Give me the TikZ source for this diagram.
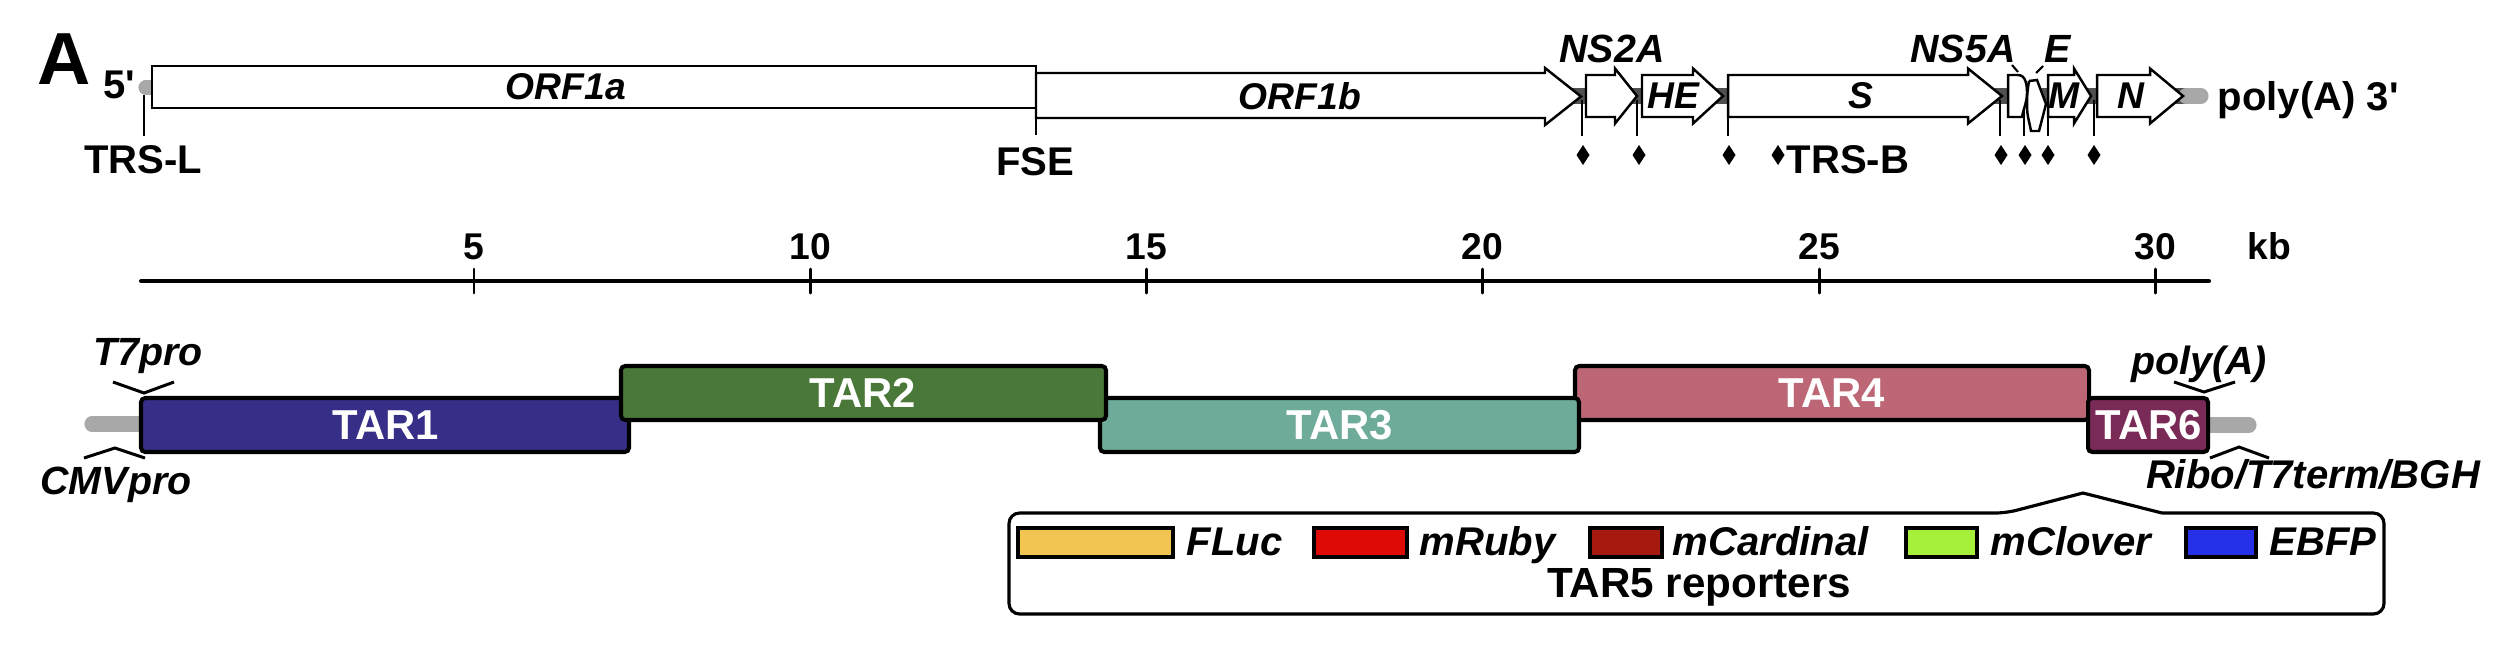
\documentclass[tikz,border=0pt]{standalone}
\usepackage{fontspec}
\setmainfont{Liberation Sans}
\newfontfamily\plainfam{Liberation Sans}
\definecolor{tarA}{HTML}{372F87}
\definecolor{tarB}{HTML}{4A7838}
\definecolor{tarC}{HTML}{6FAB9A}
\definecolor{tarD}{HTML}{BC6676}
\definecolor{tarF}{HTML}{7A2A56}
\definecolor{cFLuc}{HTML}{F2C552}
\definecolor{cRuby}{HTML}{DD0A05}
\definecolor{cCard}{HTML}{A6190F}
\definecolor{cClov}{HTML}{A6F03C}
\definecolor{cEBFP}{HTML}{2530E8}
\definecolor{capgray}{HTML}{A8A8A8}
\definecolor{bbgray}{HTML}{505050}
\newcommand{\genearrow}[5]{% name, x start, head start, tip x, centre y
  \draw[gene] (#2,#5-21) -- (#3,#5-21) -- (#3,#5-27.5) -- (#4,#5) -- (#3,#5+27.5) -- (#3,#5+21) -- (#2,#5+21) -- cycle;
  \coordinate (#1) at ({(#2+#3)/2},#5);}
\newcommand{\dmd}[1]{\fill (#1,145) -- (#1+6.5,155) -- (#1,165) -- (#1-6.5,155) -- cycle;}
\newcommand{\sq}{{\plainfam\bfseries '}}
\begin{document}
\begin{tikzpicture}[x=0.1mm,y=-0.1mm,
  lbl/.style={font=\bfseries\fontsize{11.4}{12}\selectfont, inner sep=0pt},
  ilbl/.style={font=\bfseries\itshape\fontsize{10.6}{12}\selectfont, inner sep=0pt},
  tlbl/.style={font=\bfseries\fontsize{10.6}{12}\selectfont, inner sep=0pt},
  gene/.style={draw=black, fill=white, line width=0.7pt, line join=miter},
  tar/.style={draw=black, line width=1.15pt, rounded corners=1.2pt},
  tarlbl/.style={font=\bfseries\fontsize{11.9}{12}\selectfont, text=white, inner sep=0pt},
  caret/.style={line width=0.85pt},
  sw/.style={draw=black, line width=0.9pt},
  tk/.style={line width=0.6pt},
]
\useasboundingbox[fill=white] (0,0) rectangle (2500,654);

% ---------------- top genome track ----------------
\node[font=\bfseries\fontsize{21}{21}\selectfont, anchor=base west, inner sep=0pt] (A) at (37,84) {A};
\node[lbl, anchor=base west] (five) at (103,98) {5\sq};

% backbone
\draw[line width=4.3pt, bbgray] (1570,96) -- (2186,96);
\draw[line width=4.3pt, capgray, line cap=round] (2186,96) -- (2201,96);
\draw[line width=4.3pt, capgray, line cap=round] (146,87.5) -- (152,87.5);

% ticks below
\draw[tk] (144,95) -- (144,136);
\draw[tk] (1036,108) -- (1036,135);
\foreach \x in {1582,1637,1728,2000,2024,2048,2094} \draw[tk] (\x,100) -- (\x,136);

% genes
\draw[gene] (152,66) rectangle (1036,108);
\coordinate (orf1a) at (566,87);
\draw[gene] (1036,73) -- (1545,73) -- (1545,68) -- (1581,96.5) -- (1545,125) -- (1545,118) -- (1036,118) -- cycle;
\coordinate (orf1b) at (1300,96);
\genearrow{ns2a}{1586}{1615}{1637}{96}
\genearrow{he}{1642}{1693}{1723}{96}
\genearrow{s}{1728}{1968}{2002}{96}
\genearrow{m}{2048}{2074}{2091}{96}
\genearrow{n}{2097}{2150}{2183}{96}
% NS5A small box and E
\draw[gene] (2008,75) -- (2018,75) to[out=0,in=90] (2027,93) to[out=-90,in=80] (2022,117) -- (2008,117) -- cycle;
\draw[gene] (2029,81) -- (2037,80) -- (2046,104) -- (2039,131) -- (2031,131) to[out=100,in=-90] (2027,106) to[out=90,in=-100] (2029,81);
\draw[tk] (2012,65) -- (2018,72);
\draw[tk] (2043,66) -- (2036,73);

\node[ilbl] at (orf1a) {ORF1a};
\node[ilbl] at (orf1b) {ORF1b};
\node[ilbl] at (1673,96) {HE};
\node[ilbl] at (1861,96) {S};
\node[ilbl] at (2064,96) {M};
\node[ilbl] at (2131,96) {N};
\node[ilbl, anchor=base, font=\bfseries\itshape\fontsize{11.2}{12}\selectfont] (lns2a) at (1612,62) {NS2A};
\node[ilbl, anchor=base, font=\bfseries\itshape\fontsize{11.2}{12}\selectfont] (lns5a) at (1963,62) {NS5A};
\node[ilbl, anchor=base, font=\bfseries\itshape\fontsize{11.2}{12}\selectfont] (le) at (2058,62) {E};

\foreach \x in {1583,1639,1729,1778,2001,2025,2048,2094} {\dmd{\x}}
\node[lbl, anchor=base] (trsl) at (143,173) {TRS-L};
\node[lbl, anchor=base] (fse) at (1035,175) {FSE};
\node[lbl, anchor=base west] (trsb) at (1786,173) {TRS-B};
\node[lbl, anchor=base west] (polyA3) at (2217,110) {poly(A) 3\sq};

% ---------------- scale bar ----------------
\draw[line width=1.15pt, line cap=round] (141,281) -- (2209,281);
\foreach \k/\x in {5/474,10/810,15/1146,20/1482,25/1819,30/2155} {
  \draw[line width=0.85pt, line cap=round] (\x,269) -- (\x,293);
  \node[tlbl, anchor=base] at (\x,259) {\k};
}
\node[tlbl, anchor=base west] (kb) at (2247,259) {kb};

% ---------------- TAR fragments ----------------
\draw[line width=4.3pt, capgray, line cap=round] (92,424) -- (145,424);
\draw[line width=4.3pt, capgray, line cap=round] (2200,425) -- (2249,425);
\draw[tar, fill=tarD] (1575,366) rectangle (2089,420);
\draw[tar, fill=tarA] (141,398) rectangle (629,452);
\draw[tar, fill=tarC] (1100,398) rectangle (1579,452);
\draw[tar, fill=tarB] (621,366) rectangle (1106,420);
\draw[tar, fill=tarF] (2088,398) rectangle (2208,452);
\node[tarlbl] (t1) at (386,425) {TAR1};
\node[tarlbl] (t2) at (863,393) {TAR2};
\node[tarlbl] (t3) at (1340,425) {TAR3};
\node[tarlbl] (t4) at (1832,393) {TAR4};
\node[tarlbl] (t6) at (2149,425) {TAR6};

\node[ilbl, anchor=base, font=\bfseries\itshape\fontsize{11.2}{12}\selectfont] (t7) at (148,365) {T7pro};
\draw[caret] (113,382) -- (144,393) -- (174,382);
\node[ilbl, anchor=base, font=\bfseries\itshape\fontsize{11.2}{12}\selectfont] (cmv) at (116,494) {CMVpro};
\draw[caret] (84,458) -- (115,448) -- (145,458);
\node[ilbl, anchor=base, font=\bfseries\itshape\fontsize{11.2}{12}\selectfont] (pa) at (2199,374) {poly(A)};
\draw[caret] (2174,382) -- (2204,392) -- (2235,382);
\node[ilbl, anchor=base, font=\bfseries\itshape\fontsize{11.4}{12}\selectfont] (ribo) at (2313,488) {Ribo/T7term/BGH};
\draw[caret] (2210,458) -- (2239,447) -- (2269,458);

% ---------------- legend ----------------
\draw[line width=0.9pt, rounded corners=3pt] (2162,513) -- (2384,513) -- (2384,614) -- (1009,614) -- (1009,513) -- (2006,513) [sharp corners] -- (2083,493) -- (2162,513);
\draw[sw, fill=cFLuc] (1018,528) rectangle (1173,557);
\node[ilbl, anchor=base west, font=\bfseries\itshape\fontsize{11.4}{12}\selectfont] (lf) at (1186,555) {FLuc};
\draw[sw, fill=cRuby] (1314,528) rectangle (1407,557);
\node[ilbl, anchor=base west, font=\bfseries\itshape\fontsize{11.4}{12}\selectfont] (lr) at (1419,555) {mRuby};
\draw[sw, fill=cCard] (1590,528) rectangle (1662,557);
\node[ilbl, anchor=base west, font=\bfseries\itshape\fontsize{11.4}{12}\selectfont] (lc) at (1672,555) {mCardinal};
\draw[sw, fill=cClov] (1906,528) rectangle (1977,557);
\node[ilbl, anchor=base west, font=\bfseries\itshape\fontsize{11.4}{12}\selectfont] (lcl) at (1990,555) {mClover};
\draw[sw, fill=cEBFP] (2186,528) rectangle (2256,557);
\node[ilbl, anchor=base west, font=\bfseries\itshape\fontsize{11.4}{12}\selectfont] (le2) at (2269,555) {EBFP};
\node[lbl, anchor=base, font=\bfseries\fontsize{12}{12}\selectfont] (rep) at (1699,597) {TAR5 reporters};
\end{tikzpicture}
\end{document}
